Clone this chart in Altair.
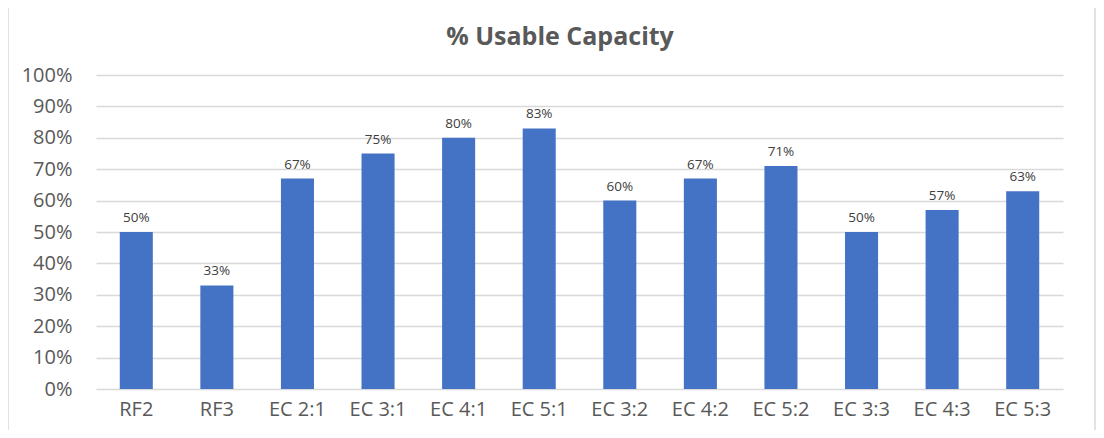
import altair as alt
import pandas as pd

categories = ["RF2", "RF3", "EC 2:1", "EC 3:1", "EC 4:1", "EC 5:1",
              "EC 3:2", "EC 4:2", "EC 5:2", "EC 3:3", "EC 4:3", "EC 5:3"]
values = [0.50, 0.33, 0.67, 0.75, 0.80, 0.83, 0.60, 0.67, 0.71, 0.50, 0.57, 0.63]
y_ticks = [0.0, 0.1, 0.2, 0.3, 0.4, 0.5, 0.6, 0.7, 0.8, 0.9, 1.0]
title_text = "% Usable Capacity"

df = pd.DataFrame({"cat": categories, "val": values})

FONT = "Open Sans"

x = alt.X("cat:N", sort=categories, title=None,
          scale=alt.Scale(paddingInner=0.59, paddingOuter=0.295),
          axis=alt.Axis(labelAngle=0, labelFontSize=20, labelColor="#595959",
                        labelFont=FONT, ticks=False, domain=False, labelPadding=10))
y = alt.Y("val:Q", title=None,
          scale=alt.Scale(domain=[0, 1]),
          axis=alt.Axis(format=".0%", values=y_ticks, labelOverlap=False,
                        labelFontSize=20, labelColor="#595959", labelFont=FONT,
                        ticks=False, domain=False, labelPadding=24,
                        gridColor="#d9d9d9", gridWidth=1.5))

bars = alt.Chart(df).mark_bar(color="#4472c4").encode(x=x, y=y)
labels = alt.Chart(df).mark_text(dy=-14, fontSize=13.5, color="#404040", font=FONT,
                                 baseline="middle").encode(
    x=x, y=y, text=alt.Text("val:Q", format=".0%"))

deco = pd.DataFrame({"t": [title_text]})
border = alt.Chart(deco).mark_rect(
    fill=None, stroke="#d9d9d9", strokeWidth=1.5).encode(
    x=alt.value(-88), x2=alt.value(999), y=alt.value(-70), y2=alt.value(357))
title = alt.Chart(deco).mark_text(fontSize=25, fontWeight="bold", color="#595959",
                                  font=FONT, baseline="middle").encode(
    x=alt.value(464), y=alt.value(-38), text="t:N")

chart = alt.layer(bars, labels, border, title).properties(
    width=967, height=314,
    autosize=alt.AutoSizeParams(type="none"),
    padding={"left": 88, "top": 67, "right": 33, "bottom": 41},
).configure_view(stroke=None)

chart.save("out.html", embed_options={"renderer": "svg", "actions": False})
